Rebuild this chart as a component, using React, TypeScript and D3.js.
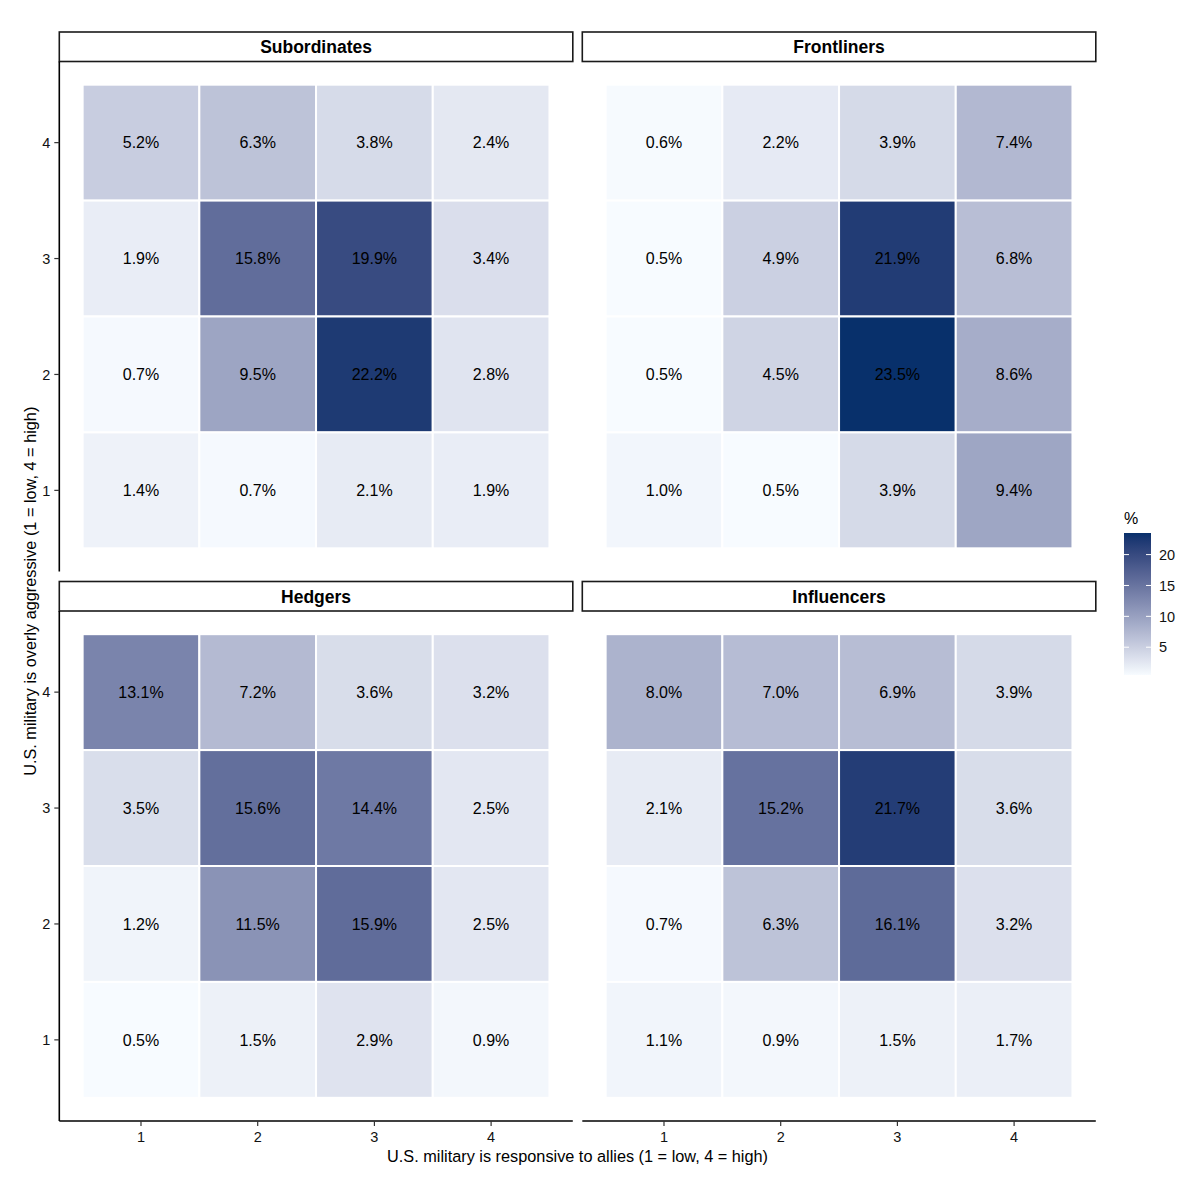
import React from 'react';
import * as d3 from 'd3';

// facet order and values, rows are y = 4..1, columns x = 1..4
const facets = ['Subordinates', 'Frontliners', 'Hedgers', 'Influencers'];
const responsive = [1, 2, 3, 4];
const aggressive = [4, 3, 2, 1];

const subordinates = [
  [5.2, 6.3, 3.8, 2.4],
  [1.9, 15.8, 19.9, 3.4],
  [0.7, 9.5, 22.2, 2.8],
  [1.4, 0.7, 2.1, 1.9],
];
const frontliners = [
  [0.6, 2.2, 3.9, 7.4],
  [0.5, 4.9, 21.9, 6.8],
  [0.5, 4.5, 23.5, 8.6],
  [1.0, 0.5, 3.9, 9.4],
];
const hedgers = [
  [13.1, 7.2, 3.6, 3.2],
  [3.5, 15.6, 14.4, 2.5],
  [1.2, 11.5, 15.9, 2.5],
  [0.5, 1.5, 2.9, 0.9],
];
const influencers = [
  [8.0, 7.0, 6.9, 3.9],
  [2.1, 15.2, 21.7, 3.6],
  [0.7, 6.3, 16.1, 3.2],
  [1.1, 0.9, 1.5, 1.7],
];
const legendTicks = [5, 10, 15, 20];

const W = 1200;
const H = 1188;
const font = '"Liberation Sans", Arial, Helvetica, sans-serif';

const panelW = 513.5;
const panelH = 510;
const stripH = 29.5;
const colX = [59.3, 582.3];
const rowY = [61.5, 611];

const grids = [subordinates, frontliners, hedgers, influencers];
const allVals = grids.flat(2);
const color = d3
  .scaleSequential(d3.interpolateLab('#f7fbff', '#08306b'))
  .domain([d3.min(allVals)!, d3.max(allVals)!]);

const x = d3.scaleLinear().domain([0.3, 4.7]).range([0, panelW]);
const y = d3.scaleLinear().domain([0.3, 4.7]).range([panelH, 0]);

function Panel({ idx }: { idx: number }) {
  const col = idx % 2;
  const row = Math.floor(idx / 2);
  const px = colX[col];
  const py = rowY[row];
  const grid = grids[idx];
  const cells = aggressive.flatMap((yv, r) =>
    responsive.map((xv, c) => ({ xv, yv, v: grid[r][c] }))
  );
  return (
    <g>
      {/* strip */}
      <rect x={px} y={py - stripH} width={panelW} height={stripH} fill="white" stroke="#1a1a1a" strokeWidth={1.6} />
      <text x={px + panelW / 2} y={py - stripH / 2} dy="0.36em" textAnchor="middle" fontFamily={font} fontWeight="bold" fontSize={17.5}>
        {facets[idx]}
      </text>
      <g transform={`translate(${px},${py})`}>
        {cells.map((d, i) => (
          <g key={i}>
            <rect
              x={x(d.xv - 0.5)}
              y={y(d.yv + 0.5)}
              width={x(d.xv + 0.5) - x(d.xv - 0.5)}
              height={y(d.yv - 0.5) - y(d.yv + 0.5)}
              fill={color(d.v)}
              stroke="white"
              strokeWidth={2}
            />
            <text x={x(d.xv)} y={y(d.yv)} dy="0.36em" textAnchor="middle" fontFamily={font} fontSize={16} fill="black">
              {d.v.toFixed(1)}%
            </text>
          </g>
        ))}
        {col === 0 && (
          <g>
            <line x1={0} x2={0} y1={0} y2={panelH} stroke="black" strokeWidth={1.6} />
            {aggressive.map((t) => (
              <g key={t} transform={`translate(0,${y(t)})`}>
                <line x1={-5} x2={0} stroke="#333" strokeWidth={1.2} />
                <text x={-9} dy="0.36em" textAnchor="end" fontFamily={font} fontSize={14.5} fill="#111">
                  {t}
                </text>
              </g>
            ))}
          </g>
        )}
        {row === 1 && (
          <g>
            <line x1={0} x2={panelW} y1={panelH} y2={panelH} stroke="black" strokeWidth={1.6} />
            {responsive.map((t) => (
              <g key={t} transform={`translate(${x(t)},${panelH})`}>
                <line y1={0} y2={5} stroke="#333" strokeWidth={1.2} />
                <text y={16} dy="0.36em" textAnchor="middle" fontFamily={font} fontSize={14.5} fill="#111">
                  {t}
                </text>
              </g>
            ))}
          </g>
        )}
      </g>
    </g>
  );
}

function Legend() {
  const lx = 1124;
  const top = 533;
  const bottom = 675;
  const bw = 27;
  const ly = d3.scaleLinear().domain(color.domain()).range([bottom, top]);
  const stops = d3.range(0, 1.0001, 0.05);
  return (
    <g>
      <defs>
        <linearGradient id="lg" x1="0" y1="1" x2="0" y2="0">
          {stops.map((s) => (
            <stop key={s} offset={s} stopColor={color(ly.invert(bottom - s * (bottom - top)))} />
          ))}
        </linearGradient>
      </defs>
      <text x={lx} y={518} dy="0.36em" fontFamily={font} fontSize={16}>%</text>
      <rect x={lx} y={top} width={bw} height={bottom - top} fill="url(#lg)" />
      {legendTicks.map((t) => (
        <g key={t} transform={`translate(0,${ly(t)})`}>
          <line x1={lx} x2={lx + 5} stroke="white" strokeWidth={1} />
          <line x1={lx + bw - 5} x2={lx + bw} stroke="white" strokeWidth={1} />
          <text x={lx + bw + 8} dy="0.36em" fontFamily={font} fontSize={14.5} fill="#111">
            {t}
          </text>
        </g>
      ))}
    </g>
  );
}

export default function App() {
  return (
    <svg width={W} height={H} style={{ position: 'absolute', left: 0, top: 0, background: 'white' }}>
      <rect width={W} height={H} fill="white" />
      {facets.map((f, i) => (
        <Panel key={f} idx={i} />
      ))}
      <text x={(colX[0] + colX[1] + panelW) / 2} y={1156} dy="0.36em" textAnchor="middle" fontFamily={font} fontSize={16.3}>
        U.S. military is responsive to allies (1 = low, 4 = high)
      </text>
      <text
        transform={`translate(30,${(rowY[0] + rowY[1] + panelH) / 2}) rotate(-90)`}
        dy="0.36em"
        textAnchor="middle"
        fontFamily={font}
        fontSize={16.3}
      >
        U.S. military is overly aggressive (1 = low, 4 = high)
      </text>
      <Legend />
    </svg>
  );
}
